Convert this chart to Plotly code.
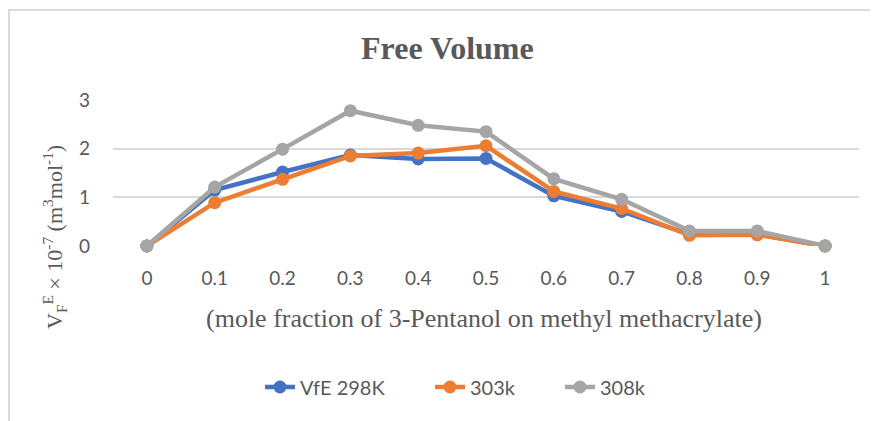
import plotly.graph_objects as go

categories = ["0", "0.1", "0.2", "0.3", "0.4", "0.5", "0.6", "0.7", "0.8", "0.9", "1"]
vfe_298k = [0, 1.15, 1.52, 1.87, 1.79, 1.80, 1.03, 0.71, 0.24, 0.24, 0]
vfe_303k = [0, 0.89, 1.37, 1.85, 1.91, 2.06, 1.12, 0.77, 0.22, 0.23, 0]
vfe_308k = [0, 1.21, 1.99, 2.78, 2.48, 2.35, 1.38, 0.96, 0.31, 0.31, 0]
series_names = ["VfE 298K", "303k", "308k"]
colors = ["#4472C4", "#ED7D31", "#A5A5A5"]

OFF = 8  # page body margin
W, H = 878 - OFF, 421 - OFF
# plot area in page pixels
L, R, T, B = 113, 859, 100, 246

def px_x(p):
    return (p - L) / (R - L)

def px_y(p):
    return (B - p) / (B - T)

legend_names = ["legend", "legend2", "legend3"]
legend_x = [260, 430, 560]

fig = go.Figure()
for name, vals, c, lg in zip(series_names, [vfe_298k, vfe_303k, vfe_308k], colors, legend_names):
    fig.add_trace(go.Scatter(
        x=categories, y=vals, name=name, mode="lines+markers",
        line=dict(color=c, width=4.5),
        marker=dict(color=c, size=13),
        cliponaxis=False, legend=lg,
    ))

lfont = dict(family="Lato, Open Sans, sans-serif", size=20, color="#595959")
legends = {}
for lg, lx in zip(legend_names, legend_x):
    legends[lg] = dict(orientation="h", x=px_x(lx), xanchor="left", y=px_y(387), yanchor="middle",
                       font=lfont, bgcolor="rgba(0,0,0,0)", borderwidth=0)

tfont = dict(family="Lato, Open Sans, sans-serif", size=19, color="#595959")

fig.update_layout(
    width=W, height=H,
    margin=dict(l=L - OFF, r=W - (R - OFF), t=T - OFF, b=H - (B - OFF)),
    paper_bgcolor="white", plot_bgcolor="white",
    showlegend=True,
    **legends,
    xaxis=dict(type="category", range=[-0.5, 10.5], showgrid=False, zeroline=False,
               showline=False, ticks="", ticklabelstandoff=19, tickfont=tfont),
    yaxis=dict(range=[0, 3], dtick=1, showgrid=True, gridcolor="#d9d9d9", gridwidth=1.5,
               zeroline=False, showline=False, ticks="", ticklabelstandoff=22, tickfont=tfont),
    annotations=[
        dict(text="<b>Free Volume</b>", xref="paper", yref="paper", x=px_x(447), y=px_y(48),
             xanchor="center", yanchor="middle", showarrow=False,
             font=dict(family="Liberation Serif, Times New Roman, serif", size=32, color="#595959")),
        dict(text="(mole fraction of 3-Pentanol on methyl methacrylate)", xref="paper", yref="paper",
             x=px_x(484), y=px_y(318), xanchor="center", yanchor="middle", showarrow=False,
             font=dict(family="Liberation Serif, Times New Roman, serif", size=26, color="#595959")),
        dict(text="V<sub>F</sub><sup>E</sup> × 10<sup>-7</sup> (m<sup>3</sup>mol<sup>-1</sup>)",
             xref="paper", yref="paper", x=px_x(54), y=px_y(237), textangle=-90,
             xanchor="center", yanchor="middle", showarrow=False,
             font=dict(family="Liberation Serif, Times New Roman, serif", size=22, color="#595959")),
    ],
    shapes=[
        dict(type="line", xref="paper", yref="paper", x0=px_x(9), x1=px_x(9),
             y0=px_y(10), y1=px_y(440), line=dict(color="#d9d9d9", width=2)),
        dict(type="line", xref="paper", yref="paper", x0=px_x(8), x1=px_x(900),
             y0=px_y(10), y1=px_y(10), line=dict(color="#d9d9d9", width=2)),
    ],
)

fig.write_html("out.html")
